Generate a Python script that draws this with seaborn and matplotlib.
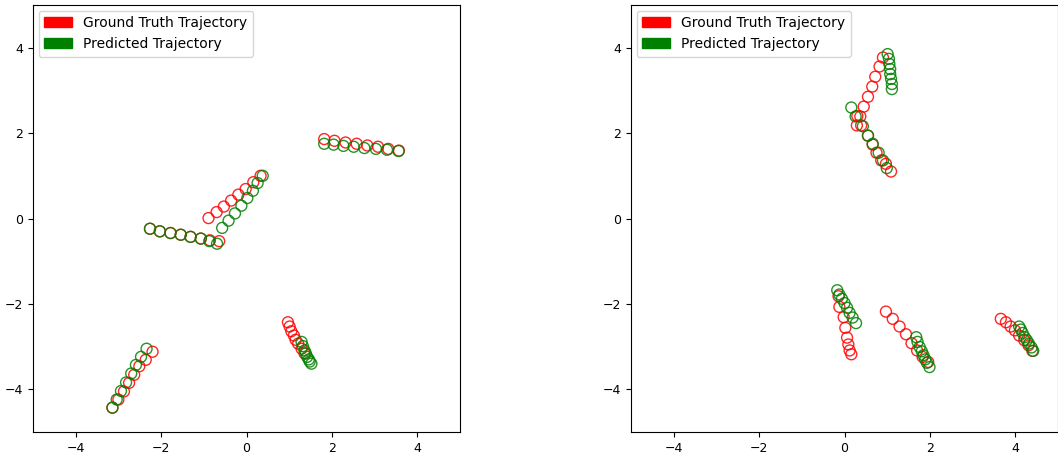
import matplotlib
matplotlib.use("Agg")
import matplotlib.pyplot as plt
import matplotlib.patches as mpatches
import seaborn as sns

# ---- scene 1: five agents, ground truth vs predicted positions ----
s1_gt_x = [
    [-0.89, -0.70, -0.53, -0.36, -0.19, -0.02, 0.16, 0.33],
    [-2.26, -2.03, -1.78, -1.54, -1.31, -1.07, -0.86, -0.64],
    [1.82, 2.06, 2.32, 2.58, 2.83, 3.08, 3.32, 3.57],
    [-3.14, -3.00, -2.87, -2.75, -2.63, -2.51, -2.36, -2.20],
    [0.97, 1.01, 1.05, 1.11, 1.15, 1.21, 1.29, 1.36],
]
s1_gt_y = [
    [0.01, 0.15, 0.28, 0.42, 0.56, 0.69, 0.85, 1.00],
    [-0.24, -0.30, -0.34, -0.38, -0.43, -0.47, -0.51, -0.53],
    [1.86, 1.82, 1.78, 1.75, 1.71, 1.68, 1.63, 1.59],
    [-4.43, -4.24, -4.05, -3.85, -3.66, -3.46, -3.31, -3.12],
    [-2.43, -2.53, -2.64, -2.74, -2.84, -2.93, -3.05, -3.16],
]
s1_pred_x = [
    [-0.57, -0.42, -0.27, -0.12, 0.02, 0.15, 0.26, 0.38],
    [-2.26, -2.03, -1.78, -1.54, -1.31, -1.07, -0.87, -0.69],
    [1.82, 2.04, 2.27, 2.51, 2.76, 3.03, 3.29, 3.56],
    [-3.14, -3.04, -2.94, -2.82, -2.70, -2.59, -2.47, -2.34],
    [1.29, 1.32, 1.36, 1.39, 1.42, 1.46, 1.48, 1.52],
]
s1_pred_y = [
    [-0.22, -0.05, 0.12, 0.30, 0.48, 0.65, 0.83, 1.00],
    [-0.24, -0.30, -0.34, -0.38, -0.43, -0.47, -0.53, -0.59],
    [1.75, 1.73, 1.70, 1.68, 1.65, 1.63, 1.61, 1.58],
    [-4.43, -4.24, -4.04, -3.84, -3.63, -3.43, -3.24, -3.05],
    [-2.89, -2.99, -3.09, -3.16, -3.24, -3.30, -3.35, -3.40],
]

# ---- scene 2 ----
s2_gt_x = [
    [0.90, 0.82, 0.72, 0.65, 0.55, 0.45, 0.37, 0.29],
    [0.30, 0.39, 0.55, 0.66, 0.75, 0.86, 0.97, 1.09],
    [-0.14, -0.12, -0.02, 0.02, 0.06, 0.09, 0.12, 0.16],
    [0.97, 1.13, 1.29, 1.44, 1.57, 1.70, 1.83, 1.96],
    [3.66, 3.78, 3.89, 3.99, 4.09, 4.21, 4.31, 4.40],
]
s2_gt_y = [
    [3.77, 3.56, 3.32, 3.09, 2.85, 2.62, 2.39, 2.18],
    [2.40, 2.18, 1.94, 1.73, 1.54, 1.36, 1.28, 1.10],
    [-1.82, -2.07, -2.31, -2.56, -2.79, -2.95, -3.09, -3.18],
    [-2.18, -2.35, -2.53, -2.71, -2.92, -3.09, -3.24, -3.36],
    [-2.35, -2.43, -2.53, -2.62, -2.74, -2.85, -2.97, -3.10],
]
s2_pred_x = [
    [1.01, 1.04, 1.05, 1.07, 1.07, 1.09, 1.11, 1.11],
    [0.16, 0.26, 0.43, 0.55, 0.66, 0.80, 0.90, 0.99],
    [-0.17, -0.12, -0.06, 0.00, 0.06, 0.12, 0.19, 0.27],
    [1.68, 1.71, 1.76, 1.81, 1.85, 1.89, 1.93, 1.99],
    [4.09, 4.13, 4.17, 4.22, 4.27, 4.32, 4.38, 4.42],
]
s2_pred_y = [
    [3.85, 3.74, 3.62, 3.50, 3.38, 3.27, 3.15, 3.03],
    [2.60, 2.39, 2.16, 1.94, 1.75, 1.54, 1.36, 1.18],
    [-1.68, -1.78, -1.88, -1.98, -2.09, -2.21, -2.32, -2.45],
    [-2.78, -2.89, -3.01, -3.11, -3.20, -3.30, -3.38, -3.48],
    [-2.53, -2.60, -2.68, -2.78, -2.85, -2.93, -3.02, -3.10],
]

legend_labels = ["Ground Truth Trajectory", "Predicted Trajectory"]
gt_color = "red"
pred_color = "green"

W, H = 1058, 454
fig = plt.figure(figsize=(W / 100, H / 100), dpi=100)
ax_l = fig.add_axes([33 / W, (H - 432) / H, 427 / W, 427 / H])
ax_r = fig.add_axes([631 / W, (H - 432) / H, 427 / W, 427 / H])


def draw_scene(ax, gx, gy, px, py):
    for xs, ys in zip(gx, gy):
        sns.scatterplot(x=xs, y=ys, ax=ax, s=62, facecolor="none",
                        edgecolor=gt_color, linewidth=1.0, alpha=0.85)
    for xs, ys in zip(px, py):
        sns.scatterplot(x=xs, y=ys, ax=ax, s=62, facecolor="none",
                        edgecolor=pred_color, linewidth=1.0, alpha=0.85)
    ax.set_xlim(-5, 5)
    ax.set_ylim(-5, 5)
    ax.set_xticks([-4, -2, 0, 2, 4])
    ax.set_yticks([-4, -2, 0, 2, 4])
    ax.tick_params(labelsize=9)
    handles = [mpatches.Patch(color=gt_color, label=legend_labels[0]),
               mpatches.Patch(color=pred_color, label=legend_labels[1])]
    ax.legend(handles=handles, loc="upper left", fontsize=10,
              borderaxespad=0.4)


draw_scene(ax_l, s1_gt_x, s1_gt_y, s1_pred_x, s1_pred_y)
draw_scene(ax_r, s2_gt_x, s2_gt_y, s2_pred_x, s2_pred_y)

fig.savefig("out.png", dpi=100)
